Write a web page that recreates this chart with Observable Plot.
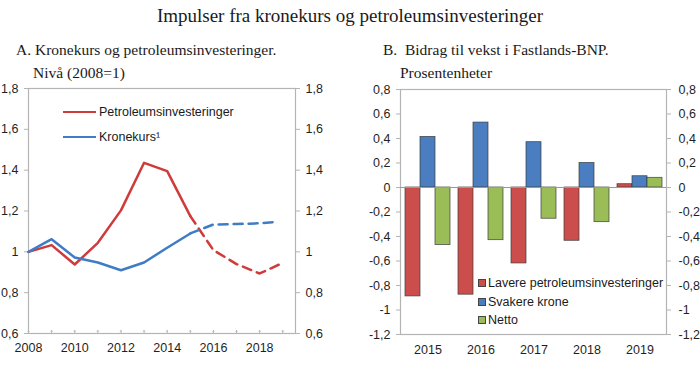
<!DOCTYPE html>
<html>
<head>
<meta charset="utf-8">
<script src="https://cdn.jsdelivr.net/npm/d3@7"></script>
<script src="https://cdn.jsdelivr.net/npm/@observablehq/plot@0.6"></script>
<style>
  html, body { margin: 0; padding: 0; background: #fff; }
  #root { position: relative; width: 700px; height: 370px; background: #fff; overflow: hidden; }
  .serif { font-family: "Liberation Serif", "Times New Roman", serif; color: #1a1a1a; position: absolute; white-space: nowrap; }
  .title { top: 5px; left: 0; width: 700px; text-align: center; font-size: 19px; }
  .sub { top: 38px; font-size: 15.5px; line-height: 23px; }
  .sub .l2 { padding-left: 17px; }
  .panel { position: absolute; top: 75px; }
  .leg { position: absolute; font-family: "Liberation Sans", Arial, sans-serif; font-size: 12.5px; color: #1a1a1a; white-space: nowrap; }
  .leg .item { position: absolute; display: flex; align-items: center; }
  .leg .line { width: 33px; height: 2.5px; margin-right: 3px; }
  .leg .sq { width: 6px; height: 6px; border: 0.8px solid #444; margin-right: 2px; }
</style>
</head>
<body>
<div id="root">
  <div class="serif title">Impulser fra kronekurs og petroleumsinvesteringer</div>
  <div class="serif sub" style="left:16px">A. Kronekurs og petroleumsinvesteringer.<br><span class="l2">Nivå (2008=1)</span></div>
  <div class="serif sub" style="left:383px">B.&nbsp;&nbsp;Bidrag til vekst i Fastlands-BNP.<br><span class="l2">Prosentenheter</span></div>
  <div class="panel" id="panelA" style="left:0"></div>
  <div class="panel" id="panelB" style="left:350px"></div>
  <div class="leg" id="legA"></div>
  <div class="leg" id="legB"></div>
</div>
<script>
// ---------- Panel A data ----------
const yearsA = [2008, 2009, 2010, 2011, 2012, 2013, 2014, 2015, 2016, 2017, 2018, 2019];
const petroleum = [1.000, 1.033, 0.938, 1.044, 1.203, 1.436, 1.395, 1.175, 1.008, 0.940, 0.894, 0.946];
const kronekursYears = [2008, 2009, 2010, 2011, 2012, 2013, 2014, 2015, 2016, 2017, 2018, 2018.75];
const kronekurs = [1.000, 1.062, 0.972, 0.948, 0.910, 0.948, 1.020, 1.090, 1.134, 1.136, 1.140, 1.147];
const lastActualYear = 2015;
const seriesNamesA = ["Petroleumsinvesteringer", "Kronekurs¹"];
const yTicksA = [0.6, 0.8, 1.0, 1.2, 1.4, 1.6, 1.8];
const xLabelYearsA = [2008, 2010, 2012, 2014, 2016, 2018];

// ---------- Panel B data ----------
const yearsB = ["2015", "2016", "2017", "2018", "2019"];
const lavere = [-0.889, -0.875, -0.620, -0.435, 0.027];
const svakere = [0.413, 0.530, 0.370, 0.200, 0.092];
const netto = [-0.470, -0.430, -0.255, -0.283, 0.079];
const seriesNamesB = ["Lavere petroleumsinvesteringer", "Svakere krone", "Netto"];
const yTicksB = [0.8, 0.6, 0.4, 0.2, 0, -0.2, -0.4, -0.6, -0.8, -1.0, -1.2];

// ---------- styling ----------
const RED = "#cf3b3b", BLUE = "#3f7cc6";
const BAR_COLORS = ["#cc4e4c", "#4a7ec0", "#9bbd58"];
const AXIS_GRAY = "#b4b4b4";
const TEXT = "#1f1f1f";
const fmt = d => String(+d.toFixed(1)).replace(".", ",");
const fontStyle = { fontFamily: "'Liberation Sans', Arial, sans-serif", fontSize: "12.5px", color: TEXT, background: "transparent", overflow: "visible" };

// ---------- Panel A ----------
const rowsP = yearsA.map((y, i) => ({ year: y, value: petroleum[i] }));
const rowsK = kronekursYears.map((y, i) => ({ year: y, value: kronekurs[i] }));
const solid = rows => rows.filter(d => d.year <= lastActualYear);
const dashed = rows => rows.filter(d => d.year >= lastActualYear);

const plotA = Plot.plot({
  width: 350, height: 295,
  marginTop: 13, marginBottom: 37, marginLeft: 28, marginRight: 55,
  style: fontStyle,
  x: { domain: [2008, 2019.55] },
  y: { domain: [0.6, 1.8] },
  marks: [
    Plot.frame({ stroke: AXIS_GRAY, strokeWidth: 1.2 }),
    Plot.axisY({ anchor: "left", ticks: yTicksA, tickSize: 4, tickPadding: 6, tickFormat: fmt, stroke: AXIS_GRAY, fill: TEXT, label: null }),
    Plot.axisY({ anchor: "right", ticks: yTicksA, tickSize: 4, tickPadding: 6, tickFormat: fmt, stroke: AXIS_GRAY, fill: TEXT, label: null }),
    Plot.axisX({ ticks: xLabelYearsA, tickSize: 0, tickPadding: 10, tickFormat: d => String(d), fill: TEXT, label: null }),
    Plot.vectorX(yearsA, { x: d => d, frameAnchor: "bottom", length: 3, anchor: "start", rotate: 0, stroke: AXIS_GRAY, strokeWidth: 1 }),
    Plot.line(solid(rowsP), { x: "year", y: "value", stroke: RED, strokeWidth: 2.5 }),
    Plot.line(dashed(rowsP), { x: "year", y: "value", stroke: RED, strokeWidth: 2.5, strokeDasharray: "9,6" }),
    Plot.line(solid(rowsK), { x: "year", y: "value", stroke: BLUE, strokeWidth: 2.5 }),
    Plot.line(dashed(rowsK), { x: "year", y: "value", stroke: BLUE, strokeWidth: 2.5, strokeDasharray: "9,6" })
  ]
});
document.getElementById("panelA").appendChild(plotA);

// ---------- Panel B ----------
const rowsB = [lavere, svakere, netto].map(vals => yearsB.map((y, i) => ({ year: y, value: vals[i] })));
const offsets = [-15, 0, 15];

const plotB = Plot.plot({
  width: 350, height: 295,
  marginTop: 14, marginBottom: 36, marginLeft: 50, marginRight: 34,
  style: fontStyle,
  x: { domain: yearsB, paddingInner: 0.718, paddingOuter: 0.359 },
  y: { domain: [-1.2, 0.8] },
  marks: [
    Plot.frame({ stroke: AXIS_GRAY, strokeWidth: 1.2 }),
    Plot.axisY({ anchor: "left", ticks: yTicksB, tickSize: 4, tickPadding: 6, tickFormat: fmt, stroke: AXIS_GRAY, fill: TEXT, label: null }),
    Plot.axisY({ anchor: "right", ticks: yTicksB, tickSize: 4, tickPadding: 8, tickFormat: fmt, stroke: AXIS_GRAY, fill: TEXT, label: null }),
    Plot.axisX({ tickSize: 0, tickPadding: 11, fill: TEXT, label: null }),
    ...rowsB.map((rows, k) => Plot.barY(rows, { x: "year", y: "value", dx: offsets[k], fill: BAR_COLORS[k], stroke: "#3a3a3a", strokeWidth: 0.8, strokeOpacity: 0.85 })),
    Plot.ruleY([0], { stroke: "#999", strokeWidth: 1.2 })
  ]
});
document.getElementById("panelB").appendChild(plotB);

// ---------- Legends ----------
const legA = document.getElementById("legA");
[[seriesNamesA[0], RED, 112], [seriesNamesA[1], BLUE, 137]].forEach(([name, col, y]) => {
  const it = document.createElement("div");
  it.className = "item";
  it.style.left = "63px"; it.style.top = (y - 8) + "px"; it.style.height = "16px";
  it.innerHTML = `<span class="line" style="background:${col}"></span><span>${name}</span>`;
  legA.appendChild(it);
});
const legB = document.getElementById("legB");
[283, 301.5, 320].forEach((y, k) => {
  const it = document.createElement("div");
  it.className = "item";
  it.style.left = "478px"; it.style.top = (y - 8) + "px"; it.style.height = "16px";
  it.innerHTML = `<span class="sq" style="background:${BAR_COLORS[k]}"></span><span>${seriesNamesB[k]}</span>`;
  legB.appendChild(it);
});
</script>
</body>
</html>
